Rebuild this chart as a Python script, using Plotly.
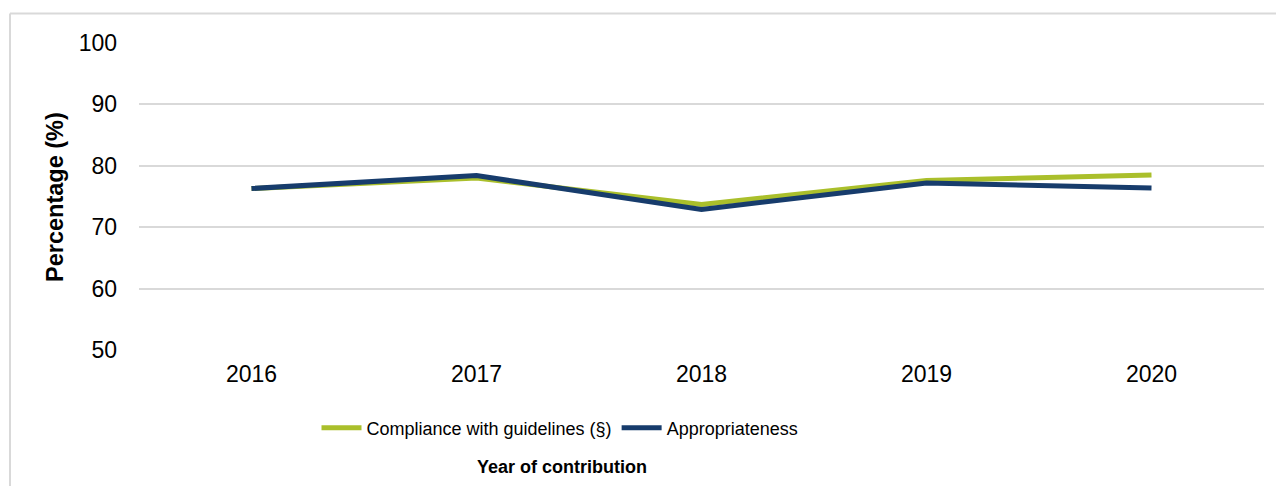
import plotly.graph_objects as go

years = ["2016", "2017", "2018", "2019", "2020"]
compliance = [76.3, 78.0, 73.7, 77.6, 78.5]
appropriateness = [76.3, 78.4, 72.9, 77.2, 76.4]
y_ticks = [50, 60, 70, 80, 90, 100]

OFF = 8  # default page body margin
W, H = 1284 - OFF, 486 - OFF
# plot area in page pixels: x 139..1264, y 43..350
L, R, T, B = 139 - OFF, 1284 - 1264, 43 - OFF, 486 - 350
pw, ph = W - L - R, H - T - B

def px_x(p):
    return (p - OFF - L) / pw

def px_y(p):
    return 1 - (p - OFF - T) / ph

fig = go.Figure()
fig.add_trace(go.Scatter(x=years, y=compliance, mode="lines",
                         name="Compliance with guidelines (§)",
                         line=dict(color="#AABF2B", width=5)))
fig.add_trace(go.Scatter(x=years, y=appropriateness, mode="lines",
                         name="Appropriateness",
                         line=dict(color="#173C6C", width=5)))

font = "Liberation Sans, Arial, sans-serif"
fig.update_layout(
    width=W, height=H,
    margin=dict(l=L, r=R, t=T, b=B),
    paper_bgcolor="white", plot_bgcolor="white",
    font=dict(family=font, size=23, color="#000000"),
    showlegend=True,
    legend=dict(orientation="h", x=px_x(560), xanchor="center",
                y=px_y(428), yanchor="middle", itemwidth=40,
                font=dict(size=18, family=font), bgcolor="rgba(0,0,0,0)",
                tracegroupgap=0),
    xaxis=dict(type="category", range=[-0.5, 4.5], showgrid=False, showline=False,
               zeroline=False, ticks="", tickfont=dict(size=23), ticklabelstandoff=8),
    yaxis=dict(range=[50, 100], tickvals=y_ticks, showgrid=True,
               gridcolor="#D9D9D9", gridwidth=2, zeroline=False, showline=False,
               ticks="", tickfont=dict(size=23), ticklabelstandoff=21),
)

fig.add_annotation(text="<b>Percentage (%)</b>", xref="paper", yref="paper",
                   x=px_x(55), y=px_y(197), textangle=-90, showarrow=False,
                   font=dict(size=23.5, family=font), xanchor="center", yanchor="middle")
fig.add_annotation(text="<b>Year of contribution</b>", xref="paper", yref="paper",
                   x=px_x(562), y=px_y(467), showarrow=False,
                   font=dict(size=18, family=font), xanchor="center", yanchor="middle")

# outer frame (top and left edges visible)
fig.add_shape(type="line", xref="paper", yref="paper",
              x0=px_x(10), x1=px_x(1300), y0=px_y(13.5), y1=px_y(13.5),
              line=dict(color="#D9D9D9", width=2))
fig.add_shape(type="line", xref="paper", yref="paper",
              x0=px_x(10), x1=px_x(10), y0=px_y(13.5), y1=px_y(500),
              line=dict(color="#D9D9D9", width=2))

fig.write_html("out.html")
